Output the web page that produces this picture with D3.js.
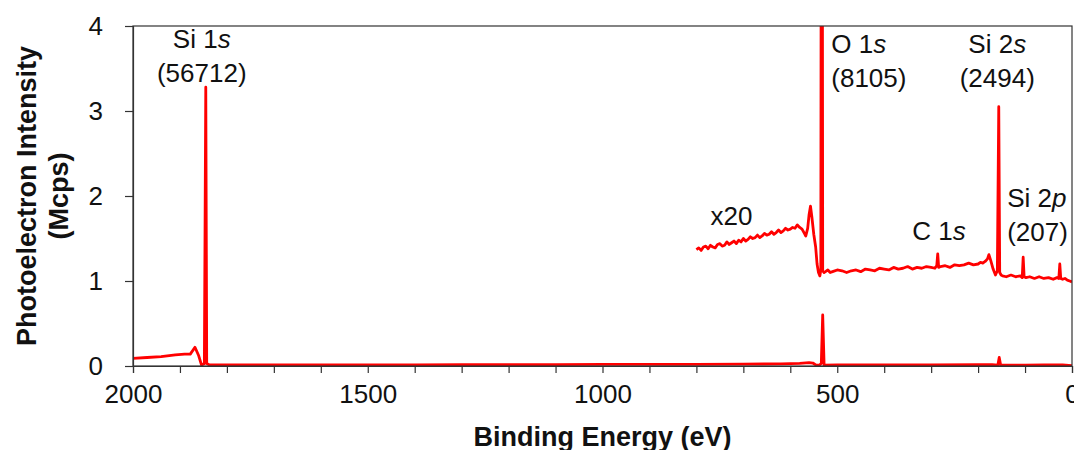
<!DOCTYPE html>
<html>
<head>
<meta charset="utf-8">
<script src="https://cdn.jsdelivr.net/npm/d3@7"></script>
<style>
  body { margin: 0; background: #fff; }
  text { font-family: "Liberation Sans", Arial, sans-serif; fill: #111; }
</style>
</head>
<body>
<div id="chart"></div>
<script>
// survey spectrum, binding energy (eV) vs intensity (Mcps)
const surveyEnergy = [2000, 1970, 1940, 1910, 1890, 1878, 1868, 1860, 1854, 1848, 1845, 1843, 1838, 1800, 1700, 1600, 1500, 1400, 1300, 1200, 1100, 1000, 900, 800, 700, 620, 580, 560, 552, 545, 538, 534, 531, 528, 500, 400, 300, 200, 170, 158, 155, 152, 140, 100, 60, 20, 0];
const surveyValue  = [0.09, 0.10, 0.11, 0.13, 0.14, 0.14, 0.22, 0.12, 0.01, 0.03, 3.28, 0.03, 0.015, 0.012, 0.012, 0.012, 0.013, 0.014, 0.015, 0.016, 0.017, 0.018, 0.02, 0.02, 0.022, 0.025, 0.03, 0.04, 0.035, 0.01, 0.01, 0.03, 0.60, 0.01, 0.012, 0.012, 0.013, 0.015, 0.015, 0.01, 0.10, 0.012, 0.01, 0.01, 0.012, 0.012, 0.005];

// x20 magnified trace (offset +1 Mcps)
const x20Energy = [800, 795, 790, 785, 780, 775, 770, 765, 760, 755, 750, 745, 740, 735, 730, 725, 720, 715, 710, 705, 700, 695, 690, 685, 680, 675, 670, 665, 660, 655, 650, 645, 640, 635, 630, 625, 620, 615, 610, 605, 600, 595, 590, 585, 580, 575, 570, 567, 563, 560, 557, 554, 550, 546, 543, 540, 537, 535, 533, 531, 528, 525, 520, 515, 510, 500, 490, 480, 470, 460, 450, 440, 430, 420, 410, 400, 390, 380, 370, 360, 350, 340, 330, 320, 310, 300, 292, 288, 286, 284, 280, 270, 260, 250, 240, 230, 220, 210, 200, 195, 190, 185, 180, 177, 173, 168, 163, 159, 156, 154, 151, 148, 140, 130, 120, 110, 106, 104, 102, 98, 90, 80, 70, 60, 50, 40, 32, 28, 26, 24, 20, 15, 10, 5, 0];
const x20Value  = [1.37, 1.39, 1.36, 1.40, 1.41, 1.38, 1.42, 1.40, 1.39, 1.43, 1.44, 1.41, 1.42, 1.46, 1.43, 1.45, 1.47, 1.44, 1.48, 1.46, 1.50, 1.47, 1.49, 1.52, 1.50, 1.51, 1.54, 1.51, 1.53, 1.56, 1.54, 1.55, 1.58, 1.55, 1.57, 1.60, 1.57, 1.59, 1.62, 1.60, 1.61, 1.63, 1.62, 1.66, 1.63, 1.61, 1.56, 1.53, 1.62, 1.78, 1.88, 1.75, 1.55, 1.40, 1.20, 1.10, 1.06, 1.13, 12.0, 1.12, 1.10, 1.11, 1.13, 1.10, 1.11, 1.13, 1.12, 1.10, 1.12, 1.13, 1.11, 1.14, 1.13, 1.12, 1.15, 1.14, 1.13, 1.16, 1.14, 1.15, 1.17, 1.14, 1.16, 1.15, 1.17, 1.16, 1.15, 1.18, 1.32, 1.16, 1.17, 1.18, 1.16, 1.19, 1.18, 1.19, 1.21, 1.19, 1.20, 1.22, 1.21, 1.23, 1.26, 1.31, 1.24, 1.14, 1.07, 1.12, 3.05, 1.10, 1.07, 1.06, 1.05, 1.07, 1.05, 1.06, 1.04, 1.28, 1.05, 1.04, 1.05, 1.03, 1.05, 1.03, 1.04, 1.02, 1.04, 1.03, 1.20, 1.03, 1.02, 1.03, 1.01, 1.00, 0.99];

const xTickLabels = [2000, 1500, 1000, 500, 0];
const yTickLabels = [0, 1, 2, 3, 4];

// peak annotations
const peakNames   = ["Si 1", "O 1", "Si 2", "C 1", "Si 2"];
const peakOrbital = ["s", "s", "s", "s", "p"];
const peakCounts  = ["(56712)", "(8105)", "(2494)", "", "(207)"];

const margin = { top: 26, right: 2, bottom: 84, left: 133 };
const width = 1074 - margin.left - margin.right;
const height = 450 - margin.top - margin.bottom;

const svgRoot = d3.select("#chart")
    .append("svg")
    .attr("width", 1074)
    .attr("height", 450);

const svg = svgRoot.append("g")
    .attr("transform", `translate(${margin.left},${margin.top})`);

const x = d3.scaleLinear().domain([2000, 0]).range([0, width]);
const y = d3.scaleLinear().domain([0, 4]).range([height, 0]);

svg.append("defs").append("clipPath")
    .attr("id", "plot-clip")
    .append("rect")
    .attr("width", width)
    .attr("height", height);

const line = d3.line()
    .x(d => x(d[0]))
    .y(d => y(d[1]));

const surveyData = surveyEnergy.map((e, i) => [e, surveyValue[i]]);
const x20Data = x20Energy.map((e, i) => [e, x20Value[i]]);

const lines = svg.append("g").attr("clip-path", "url(#plot-clip)");

[surveyData, x20Data].forEach(data => {
    lines.append("path")
        .datum(data)
        .attr("fill", "none")
        .attr("stroke", "#ff0000")
        .attr("stroke-width", 2.8)
        .attr("stroke-linejoin", "round")
        .attr("d", line);
});

// frame
svg.append("rect")
    .attr("width", width)
    .attr("height", height)
    .attr("fill", "none")
    .attr("stroke", "#333")
    .attr("stroke-width", 1.2);

// x axis: ticks every 100 eV, labels every 500
const xAxis = svg.append("g")
    .attr("transform", `translate(0,${height})`)
    .call(d3.axisBottom(x)
        .tickValues(d3.range(0, 2001, 100))
        .tickSize(7)
        .tickFormat(d => xTickLabels.includes(d) ? d : ""));

xAxis.select(".domain").attr("stroke", "#333").attr("stroke-width", 1.2);
xAxis.selectAll(".tick line").attr("stroke", "#333").attr("stroke-width", 1.2);
xAxis.selectAll(".tick text")
    .attr("dy", "0.71em")
    .attr("y", 19)
    .style("font-size", "26px")
    .style("font-family", "Liberation Sans, Arial, sans-serif")
    .attr("fill", "#111");

const yAxis = svg.append("g")
    .call(d3.axisLeft(y)
        .tickValues(yTickLabels)
        .tickSize(8)
        .tickFormat(d3.format("d")));

yAxis.select(".domain").attr("stroke", "#333").attr("stroke-width", 1.2);
yAxis.selectAll(".tick line").attr("stroke", "#333").attr("stroke-width", 1.2);
yAxis.selectAll(".tick text")
    .attr("x", -30)
    .style("font-size", "26px")
    .style("font-family", "Liberation Sans, Arial, sans-serif")
    .attr("fill", "#111");

// axis titles
svg.append("text")
    .attr("text-anchor", "middle")
    .attr("x", width / 2)
    .attr("y", height + 80)
    .style("font-size", "27px")
    .style("font-weight", "bold")
    .text("Binding Energy (eV)");

const yTitle = svg.append("text")
    .attr("text-anchor", "middle")
    .attr("transform", `translate(-97,${height / 2}) rotate(-90)`)
    .style("font-size", "27px")
    .style("font-weight", "bold");
yTitle.append("tspan").attr("x", 0).attr("dy", 0).text("Photoelectron Intensity");
yTitle.append("tspan").attr("x", 0).attr("dy", 32).text("(Mcps)");

// peak labels
const labelPos = [
    { e: 1845, v: 3.74, anchor: "middle", dx: -4 },
    { e: 534, v: 3.68, anchor: "start", dx: 10 },
    { e: 155, v: 3.68, anchor: "middle", dx: -2 },
    { e: 285, v: 1.48, anchor: "start", dx: -26 },
    { e: 104, v: 1.87, anchor: "start", dx: -16 }
];

peakNames.forEach((name, i) => {
    const p = labelPos[i];
    const t = svg.append("text")
        .attr("text-anchor", p.anchor)
        .attr("x", x(p.e) + p.dx)
        .attr("y", y(p.v))
        .style("font-size", "26px");
    t.append("tspan").text(name);
    t.append("tspan").style("font-style", "italic").text(peakOrbital[i]);
    if (peakCounts[i]) {
        svg.append("text")
            .attr("text-anchor", p.anchor)
            .attr("x", x(p.e) + p.dx)
            .attr("y", y(p.v) + 34)
            .style("font-size", "26px")
            .text(peakCounts[i]);
    }
});

svg.append("text")
    .attr("x", x(770))
    .attr("y", y(1.66))
    .style("font-size", "26px")
    .text("x20");
</script>
</body>
</html>
